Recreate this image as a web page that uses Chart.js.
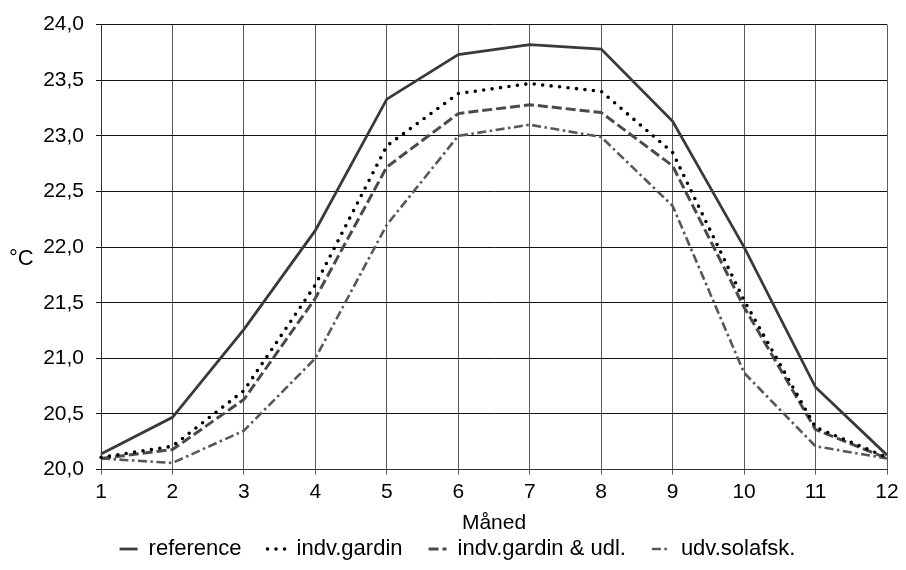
<!DOCTYPE html>
<html>
<head>
<meta charset="utf-8">
<script src="https://cdn.jsdelivr.net/npm/chart.js@4.4.1/dist/chart.umd.min.js"></script>
<style>
  html, body { margin: 0; padding: 0; background: #fff; }
  #wrap { width: 906px; height: 570px; }
</style>
</head>
<body>
<div id="wrap"><canvas id="tempChart" width="906" height="570"></canvas></div>
<script>
const months = ["1", "2", "3", "4", "5", "6", "7", "8", "9", "10", "11", "12"];

const reference = [20.14, 20.47, 21.26, 22.15, 23.33, 23.73, 23.82, 23.78, 23.13, 22.0, 20.74, 20.13];
const indvGardin = [20.11, 20.21, 20.71, 21.66, 22.91, 23.38, 23.47, 23.40, 22.85, 21.52, 20.38, 20.11];
const indvGardinUdl = [20.10, 20.18, 20.63, 21.54, 22.72, 23.20, 23.28, 23.21, 22.73, 21.46, 20.36, 20.10];
const udvSolafsk = [20.10, 20.06, 20.35, 21.0, 22.20, 23.0, 23.10, 22.99, 22.37, 20.87, 20.21, 20.10];

const yMin = 20.0;
const yMax = 24.0;
const yStep = 0.5;

const FONT = "'Liberation Sans', Arial, sans-serif";

// "°C" sits horizontally to the left of the value axis
const unitLabel = {
  id: "unitLabel",
  afterDraw(chart) {
    const ctx = chart.ctx;
    const area = chart.chartArea;
    ctx.save();
    ctx.font = "22px " + FONT;
    ctx.fillStyle = "#000";
    ctx.textBaseline = "middle";
    ctx.textAlign = "left";
    ctx.fillText("°C", 9, (area.top + area.bottom) / 2 + 12);
    ctx.restore();
  }
};

// the legend keeps wide gaps between items but sits in a short band,
// so its box is trimmed and its contents drawn a bit higher
const LEGEND_TRIM = 24;
const LEGEND_SHIFT_X = 14;
const legendBand = {
  id: "legendBand",
  beforeInit(chart) {
    const legend = chart.legend;
    const fit = legend.fit;
    legend.fit = function () {
      fit.call(this);
      this.height -= LEGEND_TRIM;
    };
    const draw = legend.draw;
    legend.draw = function () {
      this.top -= LEGEND_TRIM;
      this.left += LEGEND_SHIFT_X;
      this.right += LEGEND_SHIFT_X;
      draw.call(this);
      this.top += LEGEND_TRIM;
      this.left -= LEGEND_SHIFT_X;
      this.right -= LEGEND_SHIFT_X;
    };
  }
};

function series(label, data, color, dash, width) {
  return {
    label: label,
    data: data,
    borderColor: color,
    backgroundColor: color,
    borderWidth: width,
    borderDash: dash,
    borderCapStyle: dash.length && dash[0] === 0 ? "round" : "butt",
    pointRadius: 0,
    pointStyle: "line",
    tension: 0,
    fill: false
  };
}

// legend markers keep the dash pattern of their line
function legendLabels(chart) {
  const items = Chart.defaults.plugins.legend.labels.generateLabels(chart);
  items.forEach(item => {
    const ds = chart.data.datasets[item.datasetIndex];
    item.lineDash = ds.borderDash;
    item.lineCap = ds.borderCapStyle;
    item.lineWidth = ds.borderWidth;
    item.strokeStyle = ds.borderColor;
  });
  return items;
}

new Chart(document.getElementById("tempChart"), {
  type: "line",
  data: {
    labels: months,
    datasets: [
      series("reference", reference, "#3a3a3a", [], 2.8),
      series("indv.gardin", indvGardin, "#000", [0, 8.5], 3.6),
      series("indv.gardin & udl.", indvGardinUdl, "#4a4a4a", [10, 4], 3),
      series("udv.solafsk.", udvSolafsk, "#585858", [9, 3.5, 2.5, 3.5], 2.6)
    ]
  },
  options: {
    responsive: false,
    animation: false,
    layout: { padding: { top: 12, right: 19, left: 0, bottom: 0 } },
    plugins: {
      tooltip: { enabled: false },
      legend: {
        position: "bottom",
        labels: {
          usePointStyle: true,
          pointStyleWidth: 18,
          boxHeight: 6,
          padding: 26,
          color: "#000",
          font: { family: FONT, size: 22 },
          generateLabels: legendLabels
        }
      }
    },
    scales: {
      x: {
        grid: { color: "#5a5a5a", lineWidth: 1, tickLength: 5 },
        border: { color: "#333", width: 1 },
        ticks: { color: "#000", font: { family: FONT, size: 21 }, padding: 5, maxRotation: 0 },
        title: {
          display: true,
          text: "Måned",
          color: "#000",
          font: { family: FONT, size: 21 },
          padding: { top: 1, bottom: 0 }
        }
      },
      y: {
        min: yMin,
        max: yMax,
        afterFit(scale) { scale.width = 101; },
        grid: { color: "#111", lineWidth: 1, tickLength: 5 },
        border: { color: "#333", width: 1 },
        ticks: {
          stepSize: yStep,
          color: "#000",
          padding: 12,
          font: { family: FONT, size: 21 },
          callback: v => v.toFixed(1).replace(".", ",")
        }
      }
    }
  },
  plugins: [unitLabel, legendBand]
});
</script>
</body>
</html>
